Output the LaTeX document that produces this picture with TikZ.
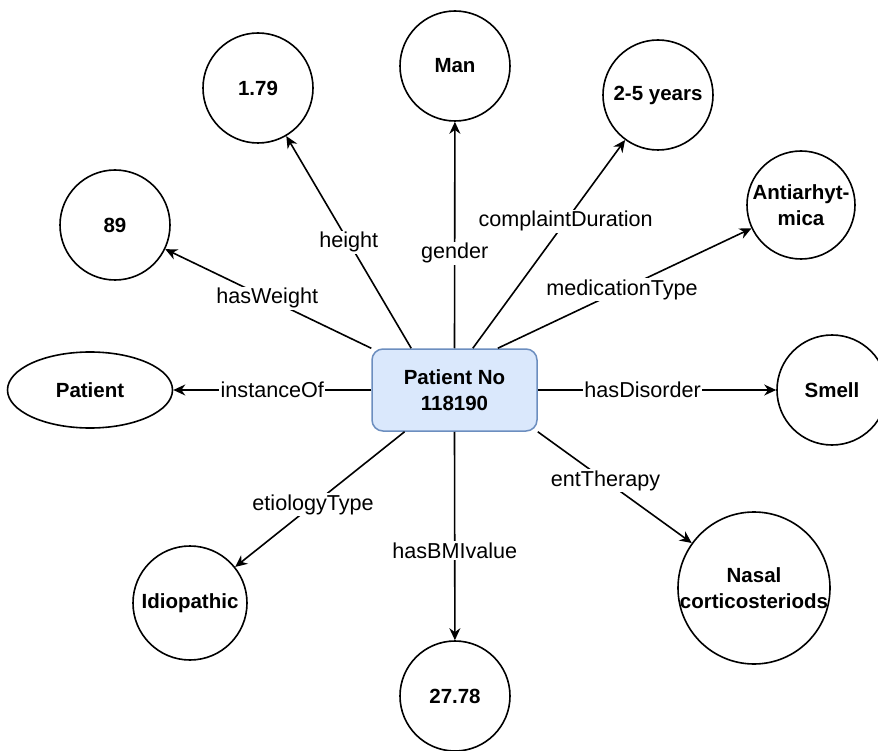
\documentclass[tikz,border=0pt]{standalone}
\usepackage{fontspec}
\setmainfont{Liberation Sans}
\usetikzlibrary{arrows.meta,calc,shapes.geometric}
\definecolor{hubfill}{HTML}{DAE8FC}
\definecolor{hubline}{HTML}{6C8EBF}
\begin{document}
\begin{tikzpicture}[x=1pt,y=-1pt,
  every node/.style={font=\fontsize{20.5}{26}\selectfont},
  hub/.style={draw=hubline, fill=hubfill, rounded corners=11pt,
    minimum width=165pt, minimum height=82pt, line width=1.5pt,
    align=center, font=\bfseries\fontsize{20.5}{26}\selectfont},
  val/.style={circle, draw, line width=1.6pt, minimum size=#1, inner sep=0pt,
    align=center, font=\bfseries\fontsize{20.5}{26}\selectfont},
  valtext/.style={align=center, inner sep=0pt,
    font=\bfseries\fontsize{20.5}{26}\selectfont},
  cls/.style={ellipse, draw, line width=1.6pt, minimum width=165pt,
    minimum height=76pt, inner sep=0pt,
    font=\bfseries\fontsize{20.5}{26}\selectfont},
  rel/.style={line width=1.6pt, -{Stealth[length=12pt,width=11pt]}},
  tag/.style={fill=white, inner sep=1.5pt, font=\fontsize{21.6}{26}\selectfont}
]
\useasboundingbox (0,0) rectangle (878,751);

% central resource
\node[hub] (pt) at (454.5,390) {Patient No\\118190};

% linked values
\node[val=110pt] (h)   at (258,88)  {1.79};
\node[val=110pt] (g)   at (455,66)  {Man};
\node[val=110pt] (cd)  at (658,95)  {2-5 years};
\node[val=108pt] (mt)  at (801,205) {};
\node[valtext]   (mtt) at (mt) {Antiarhyt-\\mica};
\node[val=110pt] (w)   at (115,225) {89};
\node[cls]       (cl)  at (90,390)  {Patient};
\node[val=110pt] (dis) at (832,390) {Smell};
\node[val=152pt] (nc)  at (754,588) {};
\node[valtext]   (nct) at (nc) {Nasal\\corticosteriods};
\node[val=114pt] (et)  at (190,603) {Idiopathic};
\node[val=110pt] (bmi) at (455,696) {27.78};

% exit points on the hub border
\coordinate (pHW) at (pt.north west);
\coordinate (pH)  at ($(pt.north west)!0.24!(pt.north east)$);
\coordinate (pCD) at ($(pt.north west)!0.61!(pt.north east)$);
\coordinate (pMT) at ($(pt.north west)!0.76!(pt.north east)$);
\coordinate (pET) at ($(pt.south west)!0.20!(pt.south east)$);

% properties
\draw[rel] (pHW) -- node[tag, pos=0.505] {hasWeight} (w);
\draw[rel] (pH) -- node[tag, pos=0.50] {height} (h);
\draw[rel] (pt.north) -- node[tag, pos=0.42] {gender} (g);
\draw[rel] (pCD) -- node[tag, pos=0.61] {complaintDuration} (cd);
\draw[rel] (pMT) -- node[tag, pos=0.49] {medicationType} (mt);
\draw[rel] (pt.east) -- node[tag, pos=0.44] {hasDisorder} (dis);
\draw[rel] (pt.south east) -- node[tag, pos=0.44] {entTherapy} (nc);
\draw[rel] (pt.south) -- node[tag, pos=0.57] {hasBMIvalue} (bmi);
\draw[rel] (pET) -- node[tag, pos=0.54] {etiologyType} (et);
\draw[rel] (pt.west) -- node[tag, pos=0.50] {instanceOf} (cl);
\end{tikzpicture}
\end{document}
